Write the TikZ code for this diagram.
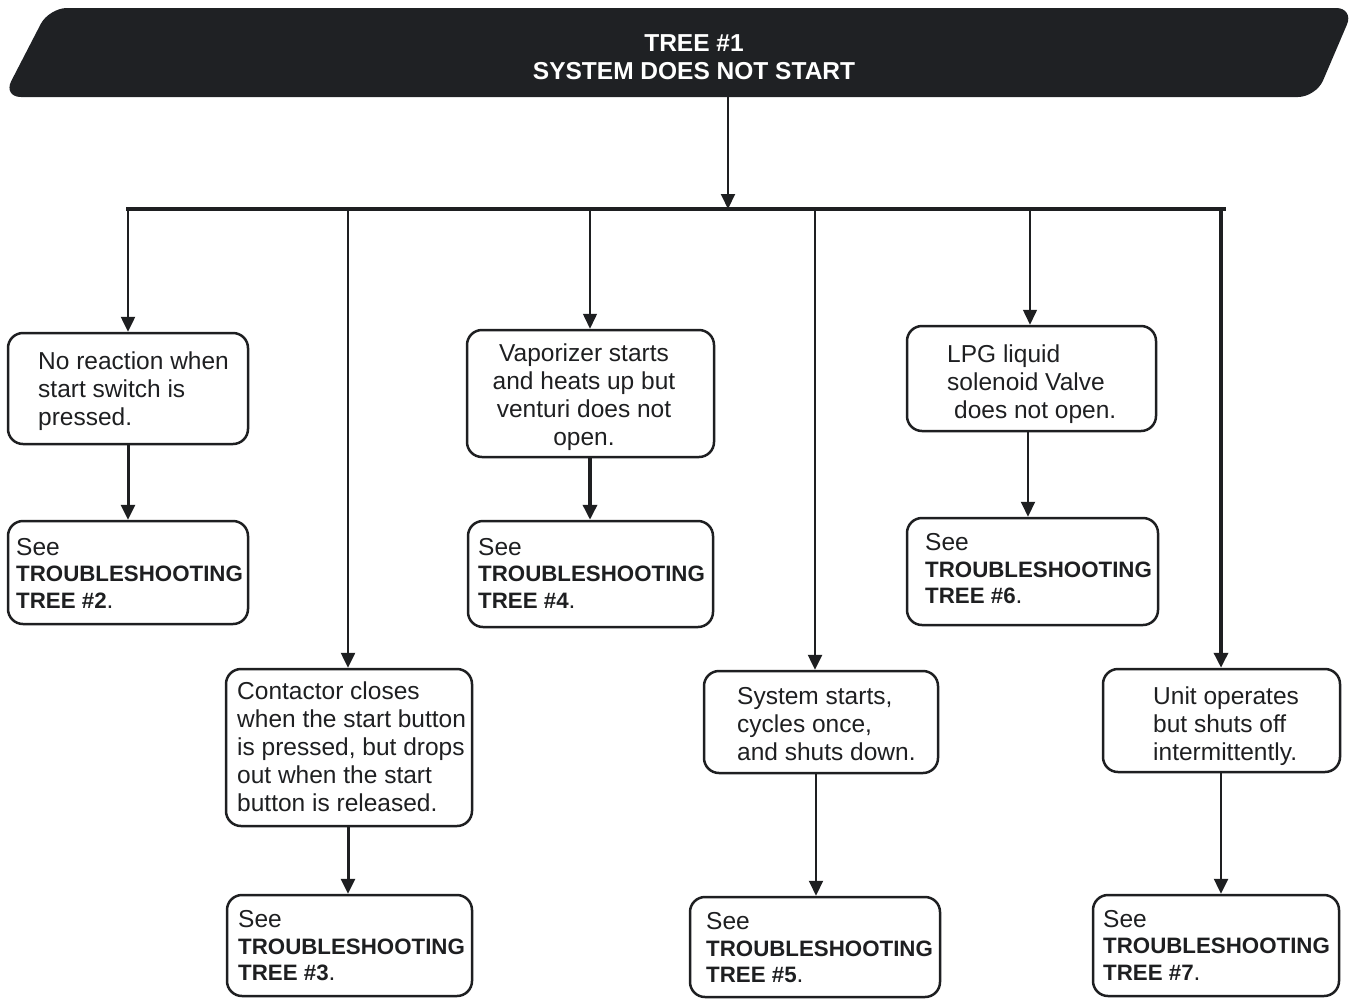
\documentclass[tikz,border=0pt]{standalone}
\usepackage{fontspec}
\setmainfont{Liberation Sans}
\usetikzlibrary{arrows.meta}
\definecolor{ink}{HTML}{1E1F21}
\definecolor{banner}{HTML}{1F2124}
% "See TROUBLESHOOTING TREE #n." reference text
\newcommand\seetree[1]{See\\{\bfseries\fontsize{22.3}{26.5}\selectfont TROUBLESHOOTING}\\{\bfseries\fontsize{22.3}{26.5}\selectfont TREE \##1}.}
\begin{document}
\begin{tikzpicture}[x=1pt,y=-1pt]
\tikzset{
  box/.style={draw=ink, line width=2.5pt, rounded corners=15pt, inner sep=0pt},
  txt/.style={inner sep=0pt, align=left, anchor=west, text=ink, font=\fontsize{24.5}{28}\selectfont},
  seetxt/.style={txt, font=\fontsize{24.5}{26.5}\selectfont},
  link/.style={draw=ink, -{Triangle[width=14pt,length=15pt]}},
}
\useasboundingbox (0,0) rectangle (1351,999);

% title banner
\fill[banner, rounded corners=18pt] (600,97) -- (3,97) -- (49,8) -- (1354,8) -- (1316,97) -- cycle;
\node[font=\bfseries\fontsize{24.5}{28}\selectfont, text=white, align=center, inner sep=0pt] (title) at (694,57) {TREE \#1\\SYSTEM DOES NOT START};

% boxes
\node[box, minimum width=240pt, minimum height=111pt] (b1) at (128,388.5) {};
\node[box, minimum width=240pt, minimum height=103pt] (b2) at (128,572.5) {};
\node[box, minimum width=246pt, minimum height=157pt] (b3) at (349,747.5) {};
\node[box, minimum width=245pt, minimum height=101pt] (b4) at (349.5,945.5) {};
\node[box, minimum width=247pt, minimum height=127pt] (b5) at (590.5,393.5) {};
\node[box, minimum width=245pt, minimum height=106pt] (b6) at (590.5,574) {};
\node[box, minimum width=234pt, minimum height=102pt] (b7) at (821,722) {};
\node[box, minimum width=250pt, minimum height=100pt] (b8) at (815,947) {};
\node[box, minimum width=249pt, minimum height=105pt] (b9) at (1031.5,378.5) {};
\node[box, minimum width=251pt, minimum height=107pt] (b10) at (1032.5,571.5) {};
\node[box, minimum width=237pt, minimum height=103pt] (b11) at (1221.5,720.5) {};
\node[box, minimum width=246pt, minimum height=101pt] (b12) at (1216,945.5) {};

% box texts
\node[txt] (t1) at (38,391) {No reaction when\\start switch is\\pressed.};
\node[seetxt] (t2) at (16,573) {\seetree{2}};
\node[txt] (t3) at (237,747) {Contactor closes\\when the start button\\is pressed, but drops\\out when the start\\button is released.};
\node[seetxt] (t4) at (238,946) {\seetree{3}};
\node[txt, align=center, anchor=center] (t5) at (584,397) {Vaporizer starts\\and heats up but\\venturi does not\\open.};
\node[seetxt] (t6) at (478,573) {\seetree{4}};
\node[txt] (t7) at (737,724) {System starts,\\cycles once,\\and shuts down.};
\node[seetxt] (t8) at (706,948) {\seetree{5}};
\node[txt] (t9) at (947,384) {LPG liquid\\solenoid Valve\\\hspace*{7pt}does not open.};
\node[seetxt] (t10) at (925,569) {\seetree{6}};
\node[txt] (t11) at (1153,726) {Unit operates\\but shuts off\\intermittently.};
\node[seetxt] (t12) at (1103,945) {\seetree{7}};

% trunk and bus
\coordinate (top) at (728,97);
\coordinate (hub) at (728,209);
\coordinate (busL) at (128,209);
\coordinate (busR) at (1224,209);
\coordinate (d1) at (128,209);
\coordinate (d2) at (348,209);
\coordinate (d3) at (590,209);
\coordinate (d4) at (815,209);
\coordinate (d5) at (1030,209);
\coordinate (d6) at (1221,209);
\draw[link, line width=2pt] (top) -- (hub);
\draw[ink, line width=3.5pt, line cap=rect] (busL) -- (busR);

% drops from the bus
\draw[link, line width=2.5pt] (d1) -- (d1 |- b1.north);
\draw[link, line width=2.5pt] (d2) -- (d2 |- b3.north);
\draw[link, line width=1.5pt] (d3) -- (d3 |- b5.north);
\draw[link, line width=2.5pt] (d4) -- (d4 |- b7.north);
\draw[link, line width=1.5pt] (d5) -- (d5 |- b9.north);
\draw[link, line width=3.5pt] (d6) -- (d6 |- b11.north);

% links to the follow-up trees
\draw[link, line width=3pt] (d1 |- b1.south) -- (d1 |- b2.north);
\draw[link, line width=3pt] (d2 |- b3.south) -- (d2 |- b4.north);
\draw[link, line width=3.5pt] (d3 |- b5.south) -- (d3 |- b6.north);
\draw[link, line width=2pt] (816,0 |- b7.south) -- (816,0 |- b8.north);
\draw[link, line width=2pt] (1028,0 |- b9.south) -- (1028,0 |- b10.north);
\draw[link, line width=2.5pt] (d6 |- b11.south) -- (d6 |- b12.north);
\end{tikzpicture}
\end{document}
